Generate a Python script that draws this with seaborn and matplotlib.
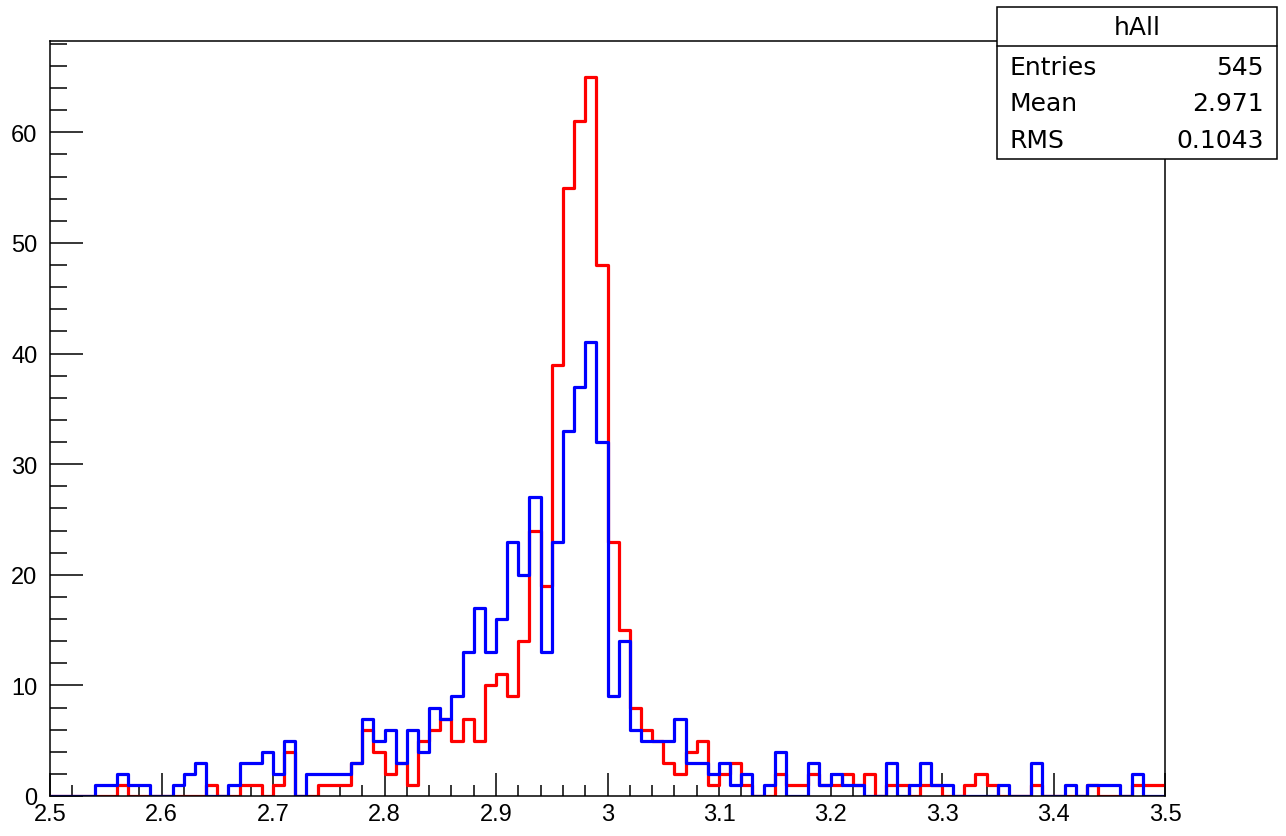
import numpy as np
import pandas as pd
import matplotlib
matplotlib.use("Agg")
import matplotlib.pyplot as plt
import seaborn as sns
from matplotlib.patches import Rectangle
from matplotlib.ticker import MultipleLocator

sns.set_style("white")
plt.rcParams["font.family"] = ["Liberation Sans", "DejaVu Sans"]
plt.rcParams["text.color"] = "black"
plt.rcParams["xtick.labelcolor"] = "black"
plt.rcParams["ytick.labelcolor"] = "black"

# HISTOGRAM CONTENTS (100 bins, 2.5 - 3.5)
x_min = 2.5
x_max = 3.5

red_counts = [
    0, 0, 0, 0, 0, 0, 1, 0, 0, 0,
    0, 0, 0, 0, 1, 0, 0, 1, 1, 0,
    1, 4, 0, 0, 1, 1, 1, 3, 6, 4,
    2, 3, 1, 5, 6, 7, 5, 7, 5, 10,
    11, 9, 14, 24, 19, 39, 55, 61, 65, 48,
    23, 15, 8, 6, 5, 3, 2, 4, 5, 1,
    2, 3, 1, 0, 0, 2, 1, 1, 2, 1,
    1, 2, 1, 2, 0, 1, 1, 0, 1, 1,
    0, 0, 1, 2, 1, 0, 0, 0, 1, 0,
    0, 0, 0, 1, 0, 0, 0, 1, 1, 1,
]

blue_counts = [
    0, 0, 0, 0, 1, 1, 2, 1, 1, 0,
    0, 1, 2, 3, 0, 0, 1, 3, 3, 4,
    2, 5, 0, 2, 2, 2, 2, 3, 7, 5,
    6, 3, 6, 4, 8, 7, 9, 13, 17, 13,
    16, 23, 20, 27, 13, 23, 33, 37, 41, 32,
    9, 14, 6, 5, 5, 5, 7, 3, 3, 2,
    3, 1, 2, 0, 1, 4, 0, 0, 3, 1,
    2, 1, 1, 0, 0, 3, 0, 1, 3, 1,
    1, 0, 0, 0, 0, 1, 0, 0, 3, 0,
    0, 1, 0, 1, 1, 1, 0, 2, 0, 0,
]

stat_name = "hAll"
stat_labels = ["Entries", "Mean", "RMS"]
stat_values = ["545", "2.971", "0.1043"]

x_ticks = [2.5, 2.6, 2.7, 2.8, 2.9, 3.0, 3.1, 3.2, 3.3, 3.4, 3.5]
y_ticks = [0, 10, 20, 30, 40, 50, 60]

edges = np.linspace(x_min, x_max, len(red_counts) + 1)
centers = (edges[:-1] + edges[1:]) / 2

df = pd.DataFrame({
    "x": np.concatenate([centers, centers]),
    "count": np.array(red_counts + blue_counts, dtype=float),
    "series": ["red"] * len(red_counts) + ["blue"] * len(blue_counts),
})

W, H = 1286, 837
fig = plt.figure(figsize=(W / 100, H / 100), dpi=100)
ax = fig.add_axes([50 / W, 40 / H, 1115 / W, 755 / H])

for name, color in [("red", "#ff0000"), ("blue", "#0000ff")]:
    sub = df[df["series"] == name].reset_index(drop=True)
    sns.histplot(
        x=sub["x"], weights=sub["count"], bins=edges.tolist(),
        element="step", fill=False, color=color,
        linewidth=2.3, ax=ax,
    )

ax.set_xlim(x_min, x_max)
ax.set_ylim(0, 1.05 * max(red_counts))
ax.set_xlabel("")
ax.set_ylabel("")

ax.set_xticks(x_ticks)
ax.set_xticklabels([f"{v:g}" for v in x_ticks])
ax.set_yticks(y_ticks)
ax.xaxis.set_minor_locator(MultipleLocator(0.02))
ax.yaxis.set_minor_locator(MultipleLocator(2))

ax.tick_params(axis="x", which="major", direction="in", length=16.3,
               width=1.1, labelsize=17, pad=5, color="black")
ax.tick_params(axis="x", which="minor", direction="in", length=8,
               width=1.1, color="black")
ax.tick_params(axis="y", which="major", direction="in", length=24,
               width=1.1, labelsize=17, pad=9, color="black")
ax.tick_params(axis="y", which="minor", direction="in", length=12,
               width=1.1, color="black")
ax.tick_params(bottom=True, left=True, top=False, right=False, which="both")

for spine in ax.spines.values():
    spine.set_color("black")
    spine.set_linewidth(1.1)

# STATS BOX
bx0, bx1 = 997 / W, 1277 / W
by0, by1 = 1 - 160 / H, 1 - 8 / H
fig.patches.append(Rectangle((bx0, by0), bx1 - bx0, by1 - by0,
                             transform=fig.transFigure, facecolor="white",
                             edgecolor="black", linewidth=1.1, zorder=5))
fig.lines.append(plt.Line2D([bx0, bx1], [1 - 47 / H] * 2,
                            transform=fig.transFigure, color="black",
                            linewidth=1.1, zorder=6))

box_font = ["DejaVu Sans"]
fig.text(1137 / W, 1 - 28 / H, stat_name, ha="center", va="center",
         fontsize=18, family=box_font, color="black", zorder=7)
row_y = [68, 104, 141]
for lab, val, yy in zip(stat_labels, stat_values, row_y):
    fig.text(1009 / W, 1 - yy / H, lab, ha="left", va="center",
             fontsize=18, family=box_font, color="black", zorder=7)
    fig.text(1264 / W, 1 - yy / H, val, ha="right", va="center",
             fontsize=18, family=box_font, color="black", zorder=7)

fig.savefig("out.png", dpi=100)
plt.close(fig)
